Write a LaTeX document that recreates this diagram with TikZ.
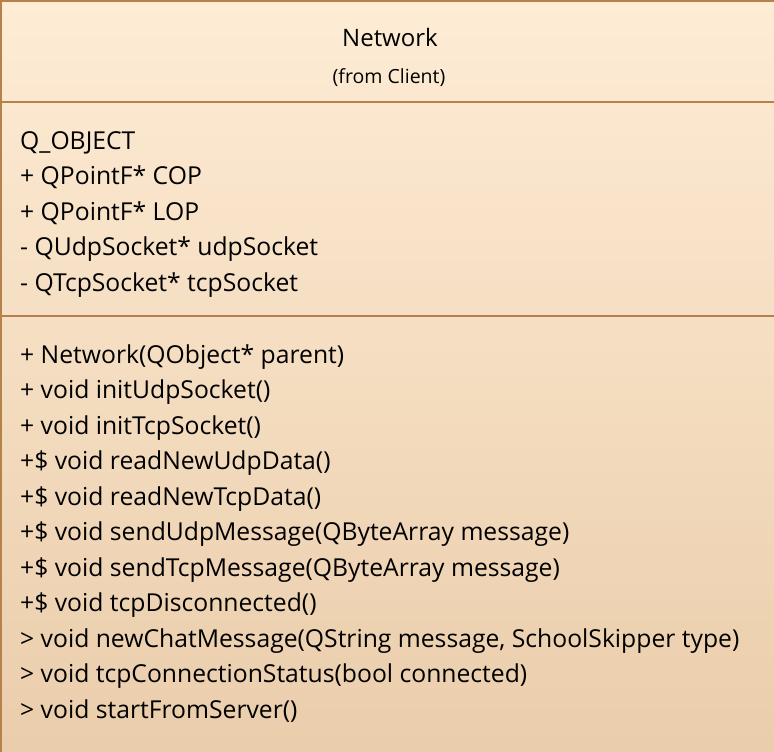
\documentclass[tikz,border=0pt]{standalone}
\usepackage{fontspec}
\setmainfont{Open Sans}
\usetikzlibrary{positioning}

\definecolor{boxtop}{RGB}{254,236,213}
\definecolor{boxbot}{RGB}{234,205,171}
\definecolor{boxline}{RGB}{180,130,74}

\tikzset{
  member/.style={anchor=base west, inner sep=0pt, font=\fontsize{24.7}{25}\selectfont},
  title/.style={anchor=base, inner sep=0pt, font=\fontsize{24}{24}\selectfont},
  package/.style={anchor=base, inner sep=0pt, font=\fontsize{19.5}{20}\selectfont}
}

\begin{document}
\begin{tikzpicture}[x=1pt, y=-1pt]
\useasboundingbox (0,0) rectangle (774,752);
\path [top color=boxtop, bottom color=boxbot] (0,0) rectangle (774,752);
\path [draw, boxline, line width=2pt] (1,752) -- (1,1) -- (774,1);
\path [draw, boxline, line width=2pt] (0,101.5) -- (774,101.5);
\path [draw, boxline, line width=2pt] (0,316) -- (774,316);

% name compartment
\node [title] (name) at (390,47) {Network};
\node [package] (from) at (389,84) {(from Client)};

% attributes
\node [member] (a1) at (20,149) {Q\_OBJECT};
\node [member] (a2) at (20,184.5) {+ QPointF* COP};
\node [member] (a3) at (20,220) {+ QPointF* LOP};
\node [member] (a4) at (20,255.5) {- QUdpSocket* udpSocket};
\node [member] (a5) at (20,291) {- QTcpSocket* tcpSocket};

% operations
\node [member] (o1) at (20,363) {+ Network(QObject* parent)};
\node [member] (o2) at (20,398.5) {+ void initUdpSocket()};
\node [member] (o3) at (20,434) {+ void initTcpSocket()};
\node [member] (o4) at (20,469.5) {+\$ void readNewUdpData()};
\node [member] (o5) at (20,505) {+\$ void readNewTcpData()};
\node [member] (o6) at (20,540.5) {+\$ void sendUdpMessage(QByteArray message)};
\node [member] (o7) at (20,576) {+\$ void sendTcpMessage(QByteArray message)};
\node [member] (o8) at (20,611.5) {+\$ void tcpDisconnected()};
\node [member] (o9) at (20,647) {> void newChatMessage(QString message, SchoolSkipper type)};
\node [member] (o10) at (20,682.5) {> void tcpConnectionStatus(bool connected)};
\node [member] (o11) at (20,718) {> void startFromServer()};
\end{tikzpicture}
\end{document}
